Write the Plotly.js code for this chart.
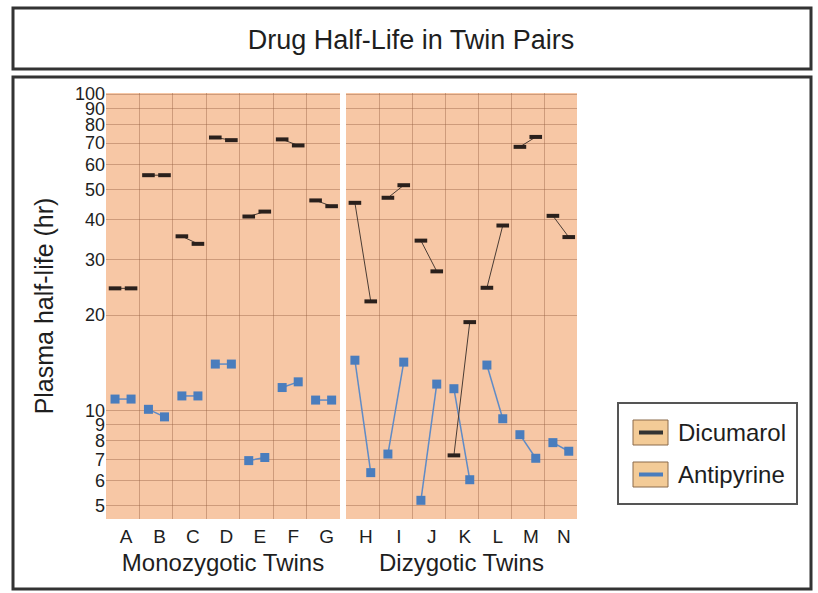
<!DOCTYPE html>
<html>
<head>
<meta charset="utf-8">
<script src="https://cdn.plot.ly/plotly-3.0.1.min.js"></script>
<style>html,body{margin:0;padding:0;background:#fff;}#chart{width:818px;height:593px;}</style>
</head>
<body>
<div id="chart"></div>
<script>
// ---- data ----
const mzPairs = ['A','B','C','D','E','F','G'];
const dzPairs = ['H','I','J','K','L','M','N'];

const dicumarolMZ_twin1 = [24.3, 55.4, 35.5, 72.9, 41.0, 71.9, 46.1];
const dicumarolMZ_twin2 = [24.3, 55.4, 33.6, 71.5, 42.5, 68.8, 44.2];
const dicumarolDZ_twin1 = [45.3, 47.0, 34.4, 7.2, 24.4, 68.1, 41.2];
const dicumarolDZ_twin2 = [22.1, 51.5, 27.5, 19.0, 38.4, 73.2, 35.3];

const antipyrineMZ_twin1 = [10.85, 10.07, 11.1, 14.0, 6.93, 11.8, 10.77];
const antipyrineMZ_twin2 = [10.85, 9.53, 11.1, 14.0, 7.09, 12.3, 10.77];
const antipyrineDZ_twin1 = [14.4, 7.27, 5.19, 11.7, 13.9, 8.37, 7.9];
const antipyrineDZ_twin2 = [6.35, 14.2, 12.1, 6.03, 9.4, 7.05, 7.42];

const yTickVals = [5,6,7,8,9,10,20,30,40,50,60,70,80,90,100];
const yTickText = ['5','6','7','8','9','10','20','30','40','50','60','70','80','90','100'];

// ---- helpers ----
function pairSeries(pairs, t1, t2){
  const x = [], y = [];
  pairs.forEach((p,i)=>{
    x.push(i+0.27, i+0.75, null);
    y.push(t1[i], t2[i], null);
  });
  return {x, y};
}

const W = 818, H = 593;
const ML = 106, MR = 241, MT = 93, MB = 74;
const PW = W - ML - MR, PH = H - MT - MB;
const px = v => (v - ML) / PW;
const py = v => (H - MB - v) / PH;

const FONT = 'Liberation Sans, Arial, Helvetica, sans-serif';
const TXT = '#1e1e1e';
const dicLine = '#4a3c34', dicMark = '#2a201c';
const antLine = '#5f8bc6', antMark = '#4a7dbd';

const traces = [];
[['x','y',mzPairs,dicumarolMZ_twin1,dicumarolMZ_twin2,antipyrineMZ_twin1,antipyrineMZ_twin2],
 ['x2','y',dzPairs,dicumarolDZ_twin1,dicumarolDZ_twin2,antipyrineDZ_twin1,antipyrineDZ_twin2]]
.forEach(([xa,ya,pairs,d1,d2,a1,a2])=>{
  const a = pairSeries(pairs,a1,a2);
  traces.push({
    type:'scatter', mode:'lines+markers', name:'Antipyrine', xaxis:xa, yaxis:ya,
    x:a.x, y:a.y, connectgaps:false, showlegend:false, hoverinfo:'y',
    line:{color:antLine, width:1.5},
    marker:{symbol:'square', size:9, color:antMark, line:{width:0}}
  });
  const d = pairSeries(pairs,d1,d2);
  traces.push({
    type:'scatter', mode:'lines+markers', name:'Dicumarol', xaxis:xa, yaxis:ya,
    x:d.x, y:d.y, connectgaps:false, showlegend:false, hoverinfo:'y',
    line:{color:dicLine, width:1},
    marker:{symbol:'line-ew', size:9, color:dicMark, line:{width:4, color:dicMark}}
  });
});

const gridC = 'rgba(150,95,65,0.42)';
const xCommon = {
  range:[0,7], tickmode:'array', ticks:'', showgrid:false, zeroline:false, showline:false,
  tickfont:{family:FONT, size:19, color:TXT}, fixedrange:true, ticklabelstandoff:4,
  minor:{tickmode:'linear', tick0:0, dtick:1, showgrid:true, gridcolor:gridC, gridwidth:1, ticks:''}
};

const shapes = [
  // title frame
  {type:'rect', xref:'paper', yref:'paper', x0:px(13), x1:px(811), y0:py(8), y1:py(69), line:{color:'#333', width:3}},
  // main frame
  {type:'rect', xref:'paper', yref:'paper', x0:px(13), x1:px(811), y0:py(77), y1:py(589), line:{color:'#333', width:3}},
  // legend frame
  {type:'rect', xref:'paper', yref:'paper', x0:px(618), x1:px(797), y0:py(403), y1:py(504), line:{color:'#555', width:2}},
  // legend swatches
  {type:'rect', xref:'paper', yref:'paper', x0:px(633), x1:px(668), y0:py(420), y1:py(445), fillcolor:'#F3CB97', line:{color:'#8b6b4b', width:1}},
  {type:'rect', xref:'paper', yref:'paper', x0:px(633), x1:px(668), y0:py(462), y1:py(487), fillcolor:'#F3CB97', line:{color:'#8b6b4b', width:1}},
  {type:'line', xref:'paper', yref:'paper', x0:px(639), x1:px(663), y0:py(432.5), y1:py(432.5), line:{color:'#333', width:4}},
  {type:'line', xref:'paper', yref:'paper', x0:px(639), x1:px(663), y0:py(474.5), y1:py(474.5), line:{color:antMark, width:4}}
];

const annotations = [
  {xref:'paper', yref:'paper', x:px(676), y:py(432.5), xanchor:'left', yanchor:'middle', showarrow:false,
   text:'Dicumarol', font:{family:FONT, size:24, color:TXT}},
  {xref:'paper', yref:'paper', x:px(676), y:py(474.5), xanchor:'left', yanchor:'middle', showarrow:false,
   text:'Antipyrine', font:{family:FONT, size:24, color:TXT}}
];

const layout = {
  width:W, height:H,
  margin:{l:ML, r:MR, t:MT, b:MB, pad:0},
  paper_bgcolor:'#ffffff', plot_bgcolor:'#F7C7A5',
  showlegend:false,
  title:{text:'Drug Half-Life in Twin Pairs', x:411/W, xref:'container', xanchor:'center',
         y:1-40/H, yref:'container', yanchor:'middle', font:{family:FONT, size:27, color:TXT}},
  xaxis:Object.assign({}, xCommon, {
    domain:[0, px(340)], anchor:'y',
    tickvals:mzPairs.map((p,i)=>i+0.6), ticktext:mzPairs,
    title:{text:'Monozygotic Twins', standoff:8, font:{family:FONT, size:24, color:TXT}}
  }),
  xaxis2:Object.assign({}, xCommon, {
    domain:[px(346), 1], anchor:'y',
    tickvals:dzPairs.map((p,i)=>i+0.6), ticktext:dzPairs,
    title:{text:'Dizygotic Twins', standoff:8, font:{family:FONT, size:24, color:TXT}}
  }),
  yaxis:{
    type:'log', range:[Math.log10(4.53), Math.log10(100.8)],
    tickmode:'array', tickvals:yTickVals, ticktext:yTickText, ticks:'',
    showgrid:true, gridcolor:gridC, gridwidth:1, zeroline:false, showline:false,
    tickfont:{family:FONT, size:18, color:TXT}, fixedrange:true,
    title:{text:'Plasma half-life (hr)', standoff:14, font:{family:FONT, size:25, color:TXT}}
  },
  shapes:shapes,
  annotations:annotations
};

Plotly.newPlot('chart', traces, layout, {displayModeBar:false, staticPlot:true});
</script>
</body>
</html>
